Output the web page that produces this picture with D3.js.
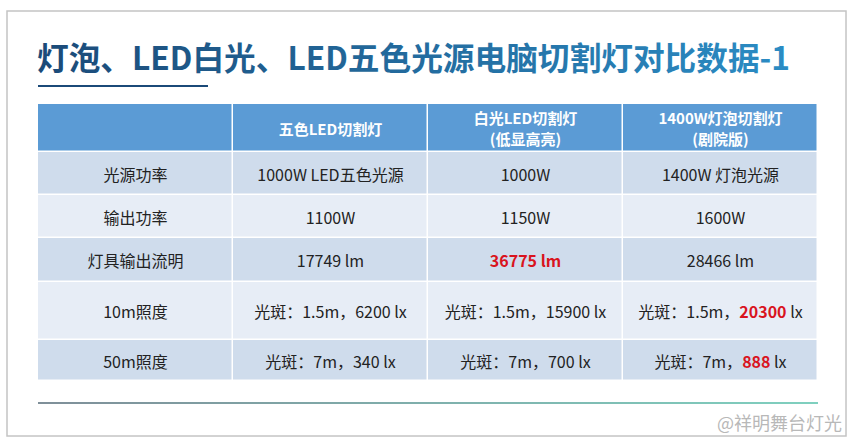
<!DOCTYPE html>
<html><head><meta charset="utf-8">
<script src="https://cdn.jsdelivr.net/npm/d3@7"></script>
<style>body{margin:0;background:#fff}svg{display:block;font-family:"Noto Sans CJK SC","Noto Sans",sans-serif}</style>
</head><body><div id="chart"></div>
<script>
const width = 854, height = 447;
const title = "灯泡、LED白光、LED五色光源电脑切割灯对比数据-1";
const columns = ["", "五色LED切割灯", "白光LED切割灯\n(低显高亮)", "1400W灯泡切割灯\n(剧院版)"];
const rowLabels = ["光源功率", "输出功率", "灯具输出流明", "10m照度", "50m照度"];
// each cell: [prefix, highlighted, suffix]
const col1 = [["1000W LED五色光源","",""],["1100W","",""],["17749 lm","",""],["光斑：1.5m，6200 lx","",""],["光斑：7m，340 lx","",""]];
const col2 = [["1000W","",""],["1150W","",""],["","36775 lm",""],["光斑：1.5m，15900 lx","",""],["光斑：7m，700 lx","",""]];
const col3 = [["1400W 灯泡光源","",""],["1600W","",""],["28466 lm","",""],["光斑：1.5m，","20300"," lx"],["光斑：7m，","888"," lx"]];
const rowHeights = [48, 43, 43, 44, 58, 41];

const svg = d3.select("#chart").append("svg").attr("width", width).attr("height", height);
const defs = svg.append("defs");
const tg = defs.append("linearGradient").attr("id","tg");
tg.append("stop").attr("offset","0%").attr("stop-color","#1b4a78");
tg.append("stop").attr("offset","100%").attr("stop-color","#2b8cc4");
const bg = defs.append("linearGradient").attr("id","bg");
bg.append("stop").attr("offset","0%").attr("stop-color","#7f8f99");
bg.append("stop").attr("offset","100%").attr("stop-color","#7fd0bf");

svg.append("rect").attr("x",7).attr("y",11).attr("width",839).attr("height",425)
  .attr("fill","#fff").attr("stroke","#c4c4c4").attr("stroke-width",1.5);

svg.append("text").attr("x",37).attr("y",70).attr("fill","url(#tg)")
  .attr("textLength",753).attr("lengthAdjust","spacingAndGlyphs")
  .style("font-size","32px").style("font-weight","bold").text(title);
svg.append("rect").attr("x",38).attr("y",85).attr("width",170).attr("height",2).attr("fill","#1b4a78");

const x = d3.scaleBand().domain(d3.range(4)).range([38, 818]);
const yEdges = [104];
rowHeights.forEach(h => yEdges.push(yEdges[yEdges.length-1] + h));
const cells = [col1, col2, col3];
const g = svg.append("g");

for (let r = 0; r < 6; r++) {
  const y0 = yEdges[r], h = rowHeights[r];
  const fill = r === 0 ? "#5b9bd5" : (r % 2 === 1 ? "#cfdcec" : "#e7edf6");
  for (let c = 0; c < 4; c++) {
    g.append("rect").attr("x", x(c)).attr("y", y0).attr("width", x.bandwidth()-1.5).attr("height", h-1.5).attr("fill", fill);
    const cx = x(c) + x.bandwidth()/2, cy = y0 + h/2;
    if (r === 0) {
      const lines = columns[c].split("\n");
      lines.forEach((l, i) => {
        g.append("text").attr("x", cx).attr("y", cy + (i - (lines.length-1)/2) * 21)
          .attr("text-anchor","middle").attr("dominant-baseline","central")
          .attr("fill","#fff").style("font-size","15px").style("font-weight","bold").text(l);
      });
    } else {
      const t = g.append("text").attr("x", cx).attr("y", cy).attr("text-anchor","middle")
        .attr("dominant-baseline","central").attr("fill","#222").style("font-size","16px");
      if (c === 0) { t.text(rowLabels[r-1]); continue; }
      const [a, b, s] = cells[c-1][r-1];
      if (a) t.append("tspan").text(a);
      if (b) t.append("tspan").attr("fill","#d9141e").style("font-weight","bold").text(b);
      if (s) t.append("tspan").text(s);
    }
  }
}

svg.append("rect").attr("x",38).attr("y",402).attr("width",780).attr("height",2).attr("fill","url(#bg)");
svg.append("text").attr("x",842).attr("y",430).attr("text-anchor","end").attr("fill","#b8b8b8")
  .style("font-size","18px").text("@祥明舞台灯光");
</script></body></html>
